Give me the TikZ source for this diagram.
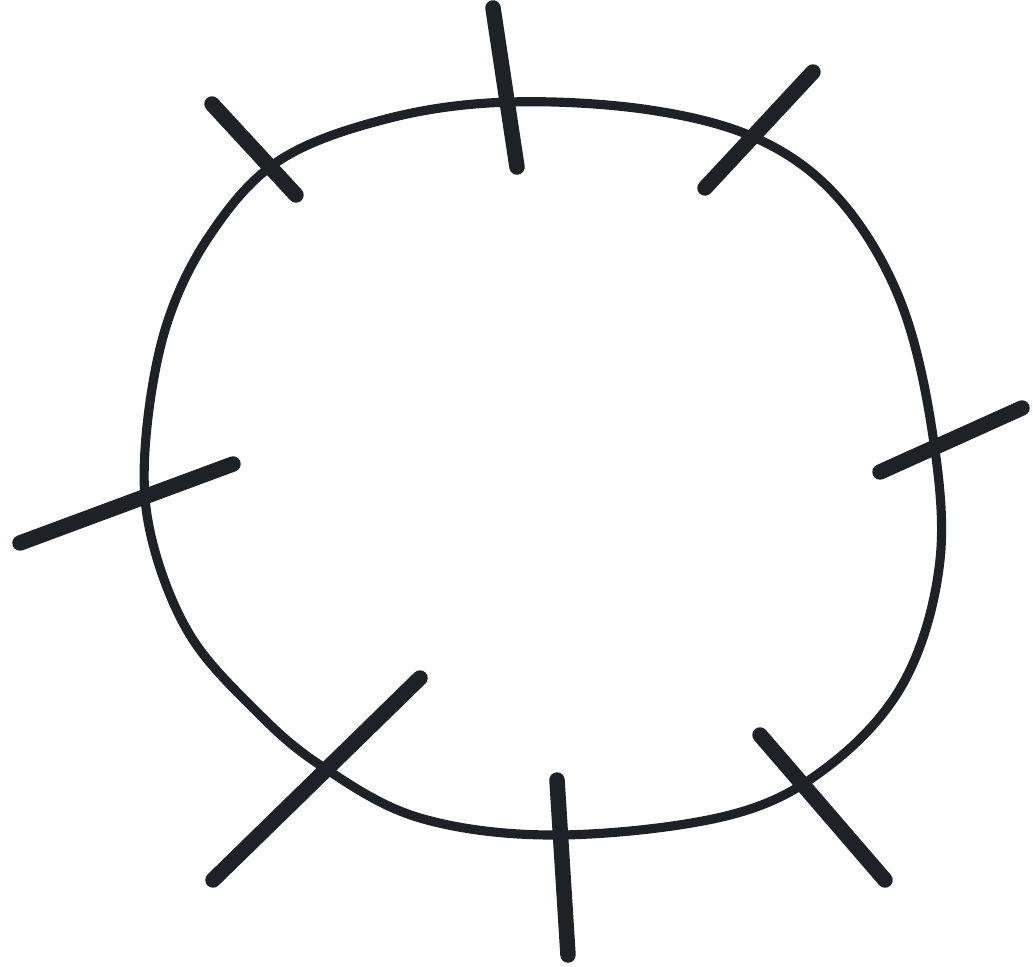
\documentclass[tikz,border=0pt]{standalone}
\begin{document}
\begin{tikzpicture}[x=0.01cm,y=-0.01cm]
\definecolor{ink}{HTML}{1E2226}
\tikzset{ring/.style={draw=ink,line width=2.6pt},
  tick/.style={draw=ink,line width=4.4pt,line cap=round}}
\useasboundingbox[fill=white] (0,0) rectangle (1033,967);
\draw[ring] plot[smooth cycle,tension=0.6] coordinates {
 (510,102) (650,110) (760,140) (840,200) (900,300) (932,430) (940,560)
 (905,680) (830,765) (730,815) (560,835) (420,818) (320,765) (255,710)
 (190,635) (152,540) (145,450) (165,330) (210,235) (280,160) (390,118)};
\draw[tick] (493,8) -- (517,167);
\draw[tick] (813,72) -- (705,188);
\draw[tick] (1022,408) -- (880,472);
\draw[tick] (760,735) -- (885,880);
\draw[tick] (557,780) -- (568,955);
\draw[tick] (420,678) -- (213,880);
\draw[tick] (233,464) -- (20,543);
\draw[tick] (212,104) -- (296,195);
\end{tikzpicture}
\end{document}
